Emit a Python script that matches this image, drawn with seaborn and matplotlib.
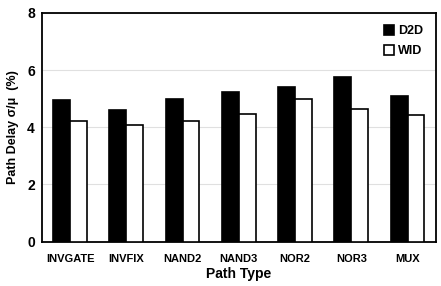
import numpy as np
import pandas as pd
import matplotlib
matplotlib.use("Agg")
import matplotlib.pyplot as plt
import seaborn as sns
from matplotlib.ticker import MultipleLocator

# --- DATA ---
path_types = ["INVGATE", "INVFIX", "NAND2", "NAND3", "NOR2", "NOR3", "MUX"]
d2d = [4.96, 4.59, 5.00, 5.23, 5.40, 5.76, 5.10]
wid = [4.23, 4.09, 4.23, 4.47, 5.00, 4.64, 4.42]

COLORS = {"D2D": "black", "WID": "white"}

df = pd.DataFrame({
    "path": path_types * 2,
    "group": ["D2D"] * len(d2d) + ["WID"] * len(wid),
    "value": d2d + wid,
})

sns.set_style("white")
plt.rcParams["font.family"] = ["Liberation Sans", "DejaVu Sans"]
plt.rcParams["text.color"] = "black"
plt.rcParams["axes.labelcolor"] = "black"
plt.rcParams["xtick.color"] = "black"
plt.rcParams["ytick.color"] = "black"

fig, ax = plt.subplots(figsize=(4.41, 2.86), dpi=100)
fig.subplots_adjust(left=0.095, right=0.988, top=0.955, bottom=0.155)

sns.barplot(data=df, x="path", y="value", hue="group", palette=COLORS,
            width=0.6, edgecolor="black", linewidth=1.2, ax=ax, zorder=3)

ax.set_ylim(0, 8)
ax.set_xlim(-0.5, len(path_types) - 0.5)
ax.yaxis.set_major_locator(MultipleLocator(2))
ax.yaxis.set_minor_locator(MultipleLocator(1))
ax.grid(True, axis="y", color="#e0e0e0", linewidth=0.8, zorder=0)

# ticks on the category boundaries
ax.set_xticks(np.arange(len(path_types)))
ax.set_xticklabels(path_types, fontsize=8, fontweight="bold")
ax.set_xticks(np.arange(len(path_types) - 1) + 0.5, minor=True)
ax.tick_params(axis="x", which="major", length=0, pad=9)
ax.tick_params(axis="x", which="minor", direction="in", length=3, width=1.2)
ax.tick_params(axis="y", which="major", direction="out", length=0, labelsize=10, pad=5)
ax.tick_params(axis="y", which="minor", direction="in", length=3, width=1.2)
for lab in ax.get_yticklabels():
    lab.set_fontweight("bold")

for s in ax.spines.values():
    s.set_color("black")
    s.set_linewidth(1.3)

ax.set_xlabel("Path Type", fontsize=10, fontweight="bold", labelpad=2)
ax.set_ylabel("Path Delay σ/μ  (%)", fontsize=9, fontweight="bold", labelpad=6)

ax.legend(loc="upper right", frameon=False, handlelength=0.8,
          handleheight=0.8, handletextpad=0.3, labelspacing=0.6,
          prop={"weight": "bold", "size": 9}, borderaxespad=0.6)

plt.savefig("out.png", dpi=100)
